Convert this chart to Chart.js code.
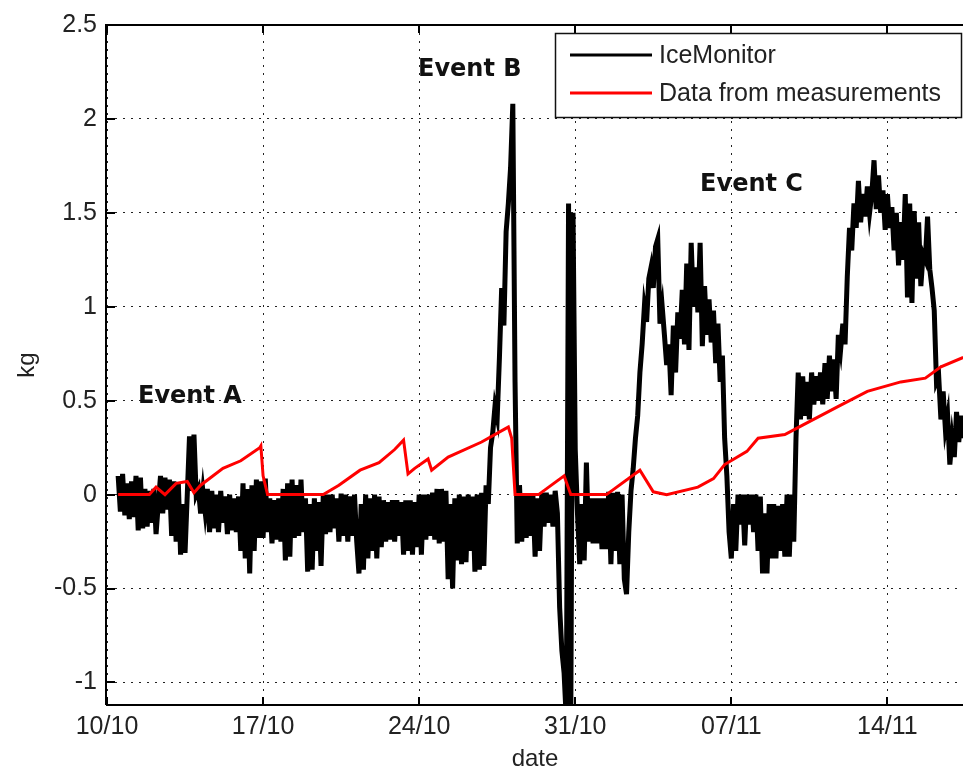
<!DOCTYPE html>
<html>
<head>
<meta charset="utf-8">
<script src="https://cdn.jsdelivr.net/npm/chart.js@4.4.0/dist/chart.umd.min.js"></script>
<style>
  html, body { margin: 0; padding: 0; background: #fff; overflow: hidden; }
  #chart { display: block; }
</style>
</head>
<body>
<canvas id="chart" width="963" height="771"></canvas>
<script>
// x values are days since 10/10
const tickDays = [0, 7, 14, 21, 28, 35];
const tickLabels = ['10/10', '17/10', '24/10', '31/10', '07/11', '14/11'];
const kgTicks = [-1, -0.5, 0, 0.5, 1, 1.5, 2, 2.5];

// IceMonitor, one sample every 0.1 day from day 0.5
const iceStart = 0.5;
const iceStep = 0.1;
const iceKg = [
  0.10, -0.09, 0.11, -0.11, 0.06,
  -0.13, 0.07, -0.12, 0.10, -0.19, 0.09, -0.18, 0.03, -0.17, 0.02,
  -0.15, 0.03, -0.21, -0.05, 0.10, -0.10, 0.09, -0.08, 0.08, -0.22,
  0.07, -0.25, 0.06, -0.32, -0.05, -0.31, 0.00, 0.31, 0.02, 0.32,
  0.00, 0.03, -0.10, 0.02, -0.09, 0.03, -0.20, 0.02, -0.18, 0.00,
  -0.20, 0.02, -0.15, -0.01, -0.21, 0.00, -0.19, -0.02, -0.20, -0.01,
  -0.30, 0.06, -0.34, 0.03, -0.42, 0.05, -0.30, 0.08, -0.23, 0.07,
  -0.23, 0.085, -0.20, -0.02, -0.26, -0.03, -0.24, -0.02, -0.25, 0.03,
  -0.35, 0.06, -0.33, 0.08, -0.23, 0.05, -0.22, 0.08, -0.20, -0.02,
  -0.41, -0.05, -0.40, -0.02, -0.30, -0.04, -0.38, 0.00, -0.21, 0.00,
  -0.20, 0.00, -0.18, -0.02, -0.25, 0.005, -0.22, 0.00, -0.25, -0.01,
  -0.22, 0.00, -0.25, -0.42, -0.05, -0.40, 0.00, -0.34, -0.02, -0.30,
  0.00, -0.34, -0.01, -0.28, -0.03, -0.25, -0.04, -0.24, -0.03, -0.25,
  -0.03, -0.22, -0.04, -0.32, -0.03, -0.30, -0.03, -0.32, -0.04, -0.28,
  0.00, -0.32, 0.00, -0.24, 0.00, -0.22, 0.01, -0.24, 0.03, -0.26,
  0.03, -0.25, 0.02, -0.45, -0.05, -0.50, -0.02, -0.35, 0.00, -0.37,
  -0.01, -0.36, 0.00, -0.30, -0.01, -0.41, 0.00, -0.40, 0.01, -0.38,
  0.05, -0.05, 0.25, 0.33, 0.47, 0.41, 0.73, 1.10, 0.90, 1.40,
  1.55, 1.74, 2.08, 0.60, -0.26, 0.05, -0.25, 0.00, -0.23, 0.00,
  -0.22, 0.00, -0.33, -0.02, -0.30, 0.01, -0.17, 0.01, -0.15, 0.00,
  -0.17, 0.02, -0.10, -0.60, -0.83, -0.95, -1.20, 1.55, -1.20, 1.50,
  0.24, -0.10, -0.37, -0.05, -0.35, 0.17, -0.25, -0.02, -0.26, -0.02,
  -0.26, -0.02, -0.29, -0.02, -0.29, 0.015, -0.37, 0.01, -0.30, 0.015,
  -0.37, 0.00, -0.45, -0.53, -0.20, 0.02, 0.14, 0.30, 0.42, 0.65,
  0.80, 1.00, 0.92, 1.15, 1.21, 1.10, 1.32, 1.36, 0.91, 1.00,
  0.85, 0.69, 0.80, 0.53, 0.90, 0.65, 0.97, 0.83, 1.09, 0.80,
  1.23, 0.77, 1.34, 1.00, 1.21, 0.97, 1.34, 0.79, 1.11, 0.85,
  1.04, 0.81, 0.98, 0.70, 0.91, 0.60, 0.74, 0.30, 0.10, -0.20,
  -0.34, -0.05, -0.30, 0.00, -0.16, 0.00, -0.27, 0.00, -0.16, 0.00,
  -0.20, 0.00, -0.30, -0.01, -0.42, -0.10, -0.42, -0.05, -0.34, -0.05,
  -0.34, -0.06, -0.30, -0.05, -0.33, 0.00, -0.33, 0.00, -0.25, 0.30,
  0.65, 0.40, 0.63, 0.42, 0.60, 0.40, 0.65, 0.48, 0.63, 0.50,
  0.65, 0.48, 0.70, 0.51, 0.74, 0.55, 0.72, 0.51, 0.85, 0.77,
  0.91, 0.80, 1.16, 1.42, 1.30, 1.55, 1.42, 1.67, 1.45, 1.60,
  1.48, 1.64, 1.50, 1.60, 1.78, 1.52, 1.70, 1.50, 1.62, 1.41,
  1.60, 1.42, 1.53, 1.30, 1.50, 1.22, 1.45, 1.25, 1.60, 1.05,
  1.55, 1.02, 1.51, 1.15, 1.45, 1.11, 1.28, 1.25, 1.48, 1.20,
  1.10, 0.98, 0.60, 0.63, 0.40, 0.55, 0.35, 0.42, 0.16, 0.30,
  0.20, 0.44, 0.28, 0.42, 0.30, 0.44, 0.35
];

// Data from measurements
const measDays = [0.5, 1.9, 2.2, 2.6, 3.1, 3.6, 3.9, 4.2, 5.2, 6.0, 6.85, 6.9, 7.0, 7.2,
  9.7, 10.4, 11.35, 12.2, 12.9, 13.3, 13.5, 13.8, 14.4, 14.56, 15.3, 16.8, 17.85, 18.0,
  18.15, 18.3, 19.35, 20.5, 20.8, 22.4, 23.9, 24.5, 25.1, 26.5, 27.2, 27.7, 28.7, 29.2,
  30.4, 31.2, 32.8, 34.1, 35.6, 36.7, 37.4, 38.4, 38.6];
const measKg = [0, 0, 0.04, 0, 0.06, 0.07, 0.01, 0.05, 0.14, 0.18, 0.25, 0.26, 0.10, 0,
  0, 0.05, 0.13, 0.17, 0.24, 0.29, 0.11, 0.14, 0.19, 0.13, 0.20, 0.28, 0.35, 0.36,
  0.30, 0, 0, 0.10, 0, 0, 0.13, 0.015, 0, 0.04, 0.085, 0.16, 0.23, 0.30,
  0.32, 0.37, 0.47, 0.55, 0.60, 0.62, 0.68, 0.73, 0.74];

const seriesNames = ['IceMonitor', 'Data from measurements'];
const eventNames = ['Event A', 'Event B', 'Event C'];

const textColor = '#222';
const axisFont = { family: "'Liberation Sans', Arial, sans-serif", size: 25 };

const iceData = iceKg.map((v, i) => ({ x: iceStart + i * iceStep, y: v }));
const measData = measDays.map((d, i) => ({ x: d, y: measKg[i] }));

// MATLAB-like box: inward ticks, legend, event labels
const matlabBox = {
  id: 'matlabBox',
  afterDatasetsDraw(chart) {
    const { ctx, chartArea: a, scales: { x, y } } = chart;
    ctx.save();
    ctx.strokeStyle = '#000';
    ctx.lineWidth = 2;
    ctx.beginPath();
    ctx.moveTo(a.left - 1, a.bottom);
    ctx.lineTo(a.left - 1, a.top);
    ctx.lineTo(a.right + 2, a.top);
    ctx.moveTo(a.left - 1, a.bottom);
    ctx.lineTo(a.right + 2, a.bottom);
    tickDays.forEach(d => {
      const px = Math.round(x.getPixelForValue(d));
      ctx.moveTo(px, a.bottom); ctx.lineTo(px, a.bottom - 8);
      ctx.moveTo(px, a.top); ctx.lineTo(px, a.top + 8);
    });
    kgTicks.forEach(v => {
      const py = Math.round(y.getPixelForValue(v));
      ctx.moveTo(a.left, py); ctx.lineTo(a.left + 8, py);
    });
    ctx.stroke();

    // legend
    ctx.fillStyle = '#fff';
    ctx.fillRect(555, 33, 407, 85);
    ctx.lineWidth = 1.5;
    ctx.strokeStyle = '#111';
    ctx.strokeRect(555.5, 33.5, 406, 84);
    const colors = ['#000', '#ff0000'];
    const rows = [55, 93];
    ctx.font = "25px 'Liberation Sans', Arial, sans-serif";
    ctx.textBaseline = 'middle';
    ctx.textAlign = 'left';
    rows.forEach((ry, i) => {
      ctx.strokeStyle = colors[i];
      ctx.lineWidth = 3;
      ctx.beginPath();
      ctx.moveTo(570, ry); ctx.lineTo(652, ry);
      ctx.stroke();
      ctx.fillStyle = textColor;
      ctx.fillText(seriesNames[i], 659, ry + 1);
    });

    // event labels
    const spots = [[1.39, 0.52], [13.95, 2.26], [26.6, 1.65]];
    ctx.font = "bold 24px 'DejaVu Sans', sans-serif";
    ctx.fillStyle = '#111';
    eventNames.forEach((t, i) => {
      ctx.fillText(t, x.getPixelForValue(spots[i][0]), y.getPixelForValue(spots[i][1]));
    });
    ctx.restore();
  }
};

new Chart(document.getElementById('chart'), {
  type: 'line',
  data: {
    datasets: [
      {
        label: seriesNames[1],
        data: measData,
        borderColor: '#ff0000',
        borderWidth: 3,
        pointRadius: 0,
        order: 0
      },
      {
        label: seriesNames[0],
        data: iceData,
        borderColor: '#000',
        borderWidth: 5,
        borderJoinStyle: 'miter',
        pointRadius: 0,
        order: 1
      }
    ]
  },
  plugins: [matlabBox],
  options: {
    responsive: false,
    animation: false,
    devicePixelRatio: 1,
    layout: { padding: { top: 20, left: 0, right: 0, bottom: 0 } },
    plugins: {
      legend: { display: false },
      tooltip: { enabled: false }
    },
    scales: {
      x: {
        type: 'linear',
        min: 0,
        max: 38.39,
        afterBuildTicks: s => { s.ticks = tickDays.map(v => ({ value: v })); },
        afterFit: s => { s.height = 66; },
        ticks: {
          callback: v => tickLabels[tickDays.indexOf(v)],
          font: axisFont,
          color: textColor,
          padding: 7,
          maxRotation: 0,
          autoSkip: false
        },
        grid: { color: '#222', lineWidth: 1, drawTicks: false },
        border: { display: false, dash: [2, 6] },
        title: {
          display: true,
          text: 'date',
          font: { ...axisFont, size: 24, lineHeight: 1 },
          color: textColor,
          padding: { top: 0, bottom: 0 }
        }
      },
      y: {
        min: -1.12,
        max: 2.5,
        afterBuildTicks: s => { s.ticks = kgTicks.map(v => ({ value: v })); },
        afterFit: s => { s.width = 107; },
        ticks: {
          callback: v => String(v),
          font: axisFont,
          color: textColor,
          padding: 10
        },
        grid: { color: '#222', lineWidth: 1, drawTicks: false },
        border: { display: false, dash: [2, 6] },
        title: {
          display: true,
          text: 'kg',
          font: { ...axisFont, size: 24, lineHeight: 1 },
          color: textColor,
          padding: { top: 15, bottom: 0 }
        }
      }
    }
  }
});
</script>
</body>
</html>
